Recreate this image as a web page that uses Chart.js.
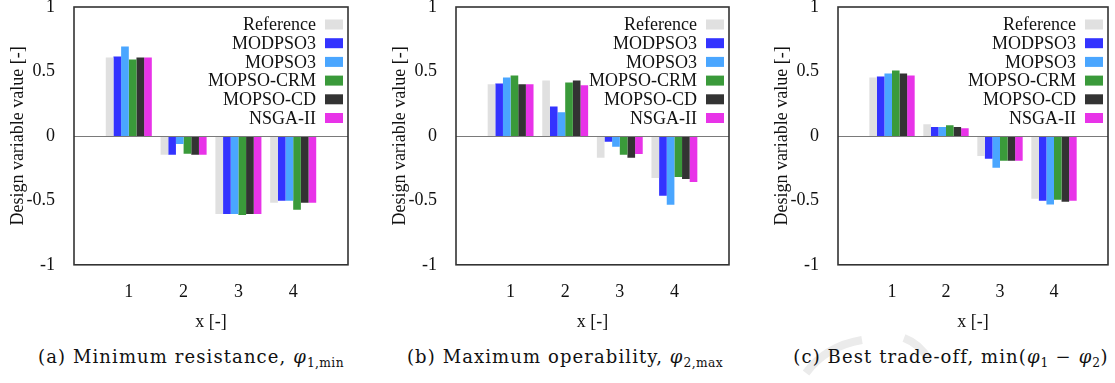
<!DOCTYPE html>
<html>
<head>
<meta charset="utf-8">
<script src="https://cdn.jsdelivr.net/npm/chart.js@4.4.1/dist/chart.umd.min.js"></script>
<style>
  body { margin: 0; background: #fff; width: 1115px; height: 383px; position: relative; overflow: hidden; font-family: "Liberation Serif", serif; }
  .panel { position: absolute; top: 0; }
  .caption { position: absolute; top: 346px; width: 400px; text-align: center; font-family: "DejaVu Serif", serif; font-size: 18px; letter-spacing: 1.1px; line-height: 22px; color: #111; white-space: nowrap; }
  .caption sub { font-size: 68%; letter-spacing: 0.4px; vertical-align: -0.3em; line-height: 0; }
  #mark { position: absolute; left: 0; top: 0; }
</style>
</head>
<body>
<svg id="mark" width="1115" height="383">
  <g stroke="#ebebeb" stroke-width="8" fill="none">
    <path d="M 862 340 Q 826 346 806 373"/>
    <path d="M 904 338 Q 920 344 929 360"/>
  </g>
</svg>
<div class="panel" style="left:0px"><canvas id="chartA" width="352" height="333"></canvas></div>
<div class="panel" style="left:382px"><canvas id="chartB" width="351" height="333"></canvas></div>
<div class="panel" style="left:764px"><canvas id="chartC" width="348" height="333"></canvas></div>
<div class="caption" style="left:-9px">(a) Minimum resistance, <i>φ</i><sub>1,min</sub></div>
<div class="caption" style="left:365px">(b) Maximum operability, <i>φ</i><sub>2,max</sub></div>
<div class="caption" style="left:751px">(c) Best trade-off, min(<i>φ</i><sub>1</sub> − <i>φ</i><sub>2</sub>)</div>

<script>
// design variables on the x axis
const categories = ['1', '2', '3', '4'];
const seriesNames = ['Reference', 'MODPSO3', 'MOPSO3', 'MOPSO-CRM', 'MOPSO-CD', 'NSGA-II'];
const yTicks = [-1, -0.5, 0, 0.5, 1];

// (a) minimum resistance
const refA     = [0.608, -0.147, -0.606, -0.518];
const modpso3A = [0.616, -0.147, -0.606, -0.503];
const mopso3A  = [0.693, -0.062, -0.606, -0.503];
const crmA     = [0.593, -0.139, -0.613, -0.572];
const cdA      = [0.608, -0.147, -0.606, -0.518];
const nsgaA    = [0.608, -0.147, -0.606, -0.518];

// (b) maximum operability
const refB     = [0.400, 0.430, -0.170, -0.327];
const modpso3B = [0.407, 0.229, -0.046, -0.464];
const mopso3B  = [0.454, 0.183, -0.085, -0.534];
const crmB     = [0.469, 0.415, -0.147, -0.319];
const cdB      = [0.400, 0.430, -0.170, -0.334];
const nsgaB    = [0.400, 0.392, -0.140, -0.357];

// (c) best trade-off
const refC     = [0.454, 0.090, -0.155, -0.487];
const modpso3C = [0.461, 0.070, -0.178, -0.503];
const mopso3C  = [0.485, 0.070, -0.247, -0.533];
const crmC     = [0.508, 0.082, -0.193, -0.495];
const cdC      = [0.485, 0.070, -0.193, -0.510];
const nsgaC    = [0.469, 0.059, -0.193, -0.503];

const colors = ['#e0e0e0', '#3333ff', '#4aa6ff', '#3a9a3a', '#333333', '#e833e8'];
const FONT = { family: '"Liberation Serif", serif', size: 18 };

// empty slots either side so the groups sit at 1..4 on a 0..5 axis
const pad = arr => [null, ...arr, null];
const paddedLabels = ['', ...categories, ''];

// frame, zero line and the in-plot legend
const framePlugin = {
  id: 'frame',
  afterDatasetsDraw(chart) {
    const { ctx, chartArea: a, scales: { y } } = chart;
    ctx.save();
    const y0 = Math.round(y.getPixelForValue(0)) + 0.5;
    ctx.strokeStyle = '#7a7a7a';
    ctx.lineWidth = 1.2;
    ctx.beginPath();
    ctx.moveTo(a.left, y0);
    ctx.lineTo(a.right, y0);
    ctx.stroke();

    ctx.strokeStyle = '#333';
    ctx.lineWidth = 1.6;
    ctx.strokeRect(a.left, a.top, a.right - a.left, a.bottom - a.top);

    ctx.font = `${FONT.size}px ${FONT.family}`;
    ctx.textAlign = 'right';
    ctx.textBaseline = 'middle';
    chart.data.datasets.forEach((ds, i) => {
      const cy = a.top + 17.5 + i * 18.7;
      const bx = a.right - 5 - 18;
      ctx.fillStyle = ds.backgroundColor;
      ctx.fillRect(bx, cy - 5, 18, 10);
      ctx.fillStyle = '#111';
      ctx.fillText(ds.label, bx - 9, cy + 1);
    });
    ctx.restore();
  }
};

const makeChart = (id, series) => {
  const ctx = document.getElementById(id).getContext('2d');
  return new Chart(ctx, {
    type: 'bar',
    data: {
      labels: paddedLabels,
      datasets: series.map((values, i) => ({
        label: seriesNames[i],
        data: pad(values),
        backgroundColor: colors[i],
        borderWidth: 0,
        barPercentage: 1,
        categoryPercentage: 0.84
      }))
    },
    options: {
      responsive: false,
      animation: false,
      devicePixelRatio: 1,
      layout: { padding: { top: 7, right: 4, bottom: 0, left: 0 } },
      plugins: { legend: { display: false }, tooltip: { enabled: false } },
      scales: {
        x: {
          offset: false,
          grid: { display: false },
          border: { display: false },
          afterFit: scale => { scale.paddingLeft = 0; scale.paddingRight = 0; },
          ticks: { color: '#111', font: FONT, padding: 8.5, maxRotation: 0, autoSkip: false },
          title: { display: true, text: 'x [-]', color: '#111', font: FONT, padding: { top: 0, bottom: 0 } }
        },
        y: {
          min: -1,
          max: 1,
          grid: { display: false },
          border: { display: false },
          afterBuildTicks: scale => { scale.ticks = yTicks.map(v => ({ value: v })); },
          afterFit: scale => { scale.width = 74; scale.paddingTop = 0; scale.paddingBottom = 0; },
          ticks: { color: '#111', font: FONT, padding: 11, callback: v => String(v) },
          title: { display: true, text: 'Design variable value [-]', color: '#111', font: FONT, padding: { top: 7, bottom: 0 } }
        }
      }
    },
    plugins: [framePlugin]
  });
};

makeChart('chartA', [refA, modpso3A, mopso3A, crmA, cdA, nsgaA]);
makeChart('chartB', [refB, modpso3B, mopso3B, crmB, cdB, nsgaB]);
makeChart('chartC', [refC, modpso3C, mopso3C, crmC, cdC, nsgaC]);
</script>
</body>
</html>
